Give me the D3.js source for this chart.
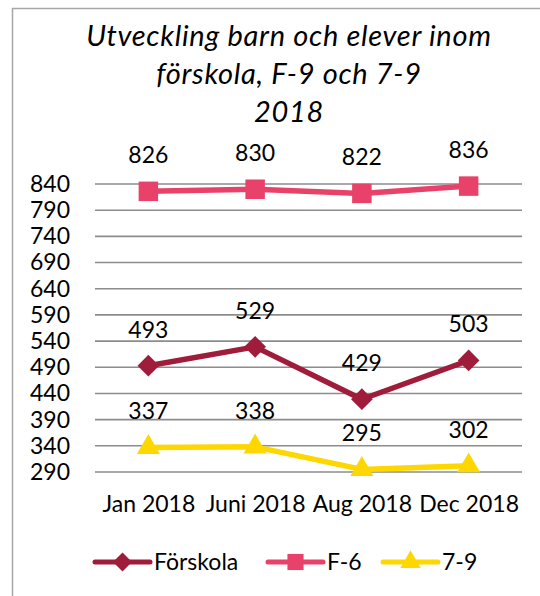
<!DOCTYPE html>
<html>
<head>
<meta charset="utf-8">
<script src="https://cdn.jsdelivr.net/npm/d3@7"></script>
<style>
  html, body { margin: 0; padding: 0; background: #fff; }
  svg { display: block; font-family: Lato, "Open Sans", sans-serif; }
</style>
</head>
<body>
<div id="container"></div>
<script>
const $ = (...args) => document.querySelector(...args);

const categories = ['Jan 2018', 'Juni 2018', 'Aug 2018', 'Dec 2018'];
const forskola = [493, 529, 429, 503];
const f6 = [826, 830, 822, 836];
const f79 = [337, 338, 295, 302];
const yTicks = [290, 340, 390, 440, 490, 540, 590, 640, 690, 740, 790, 840];
const titleLines = ['Utveckling barn och elever inom', 'förskola, F-9 och 7-9', '2018'];

const series = [
  { name: 'Förskola', values: forskola, color: '#A01C3B', marker: d3.symbolDiamond2 },
  { name: 'F-6', values: f6, color: '#E8426A', marker: d3.symbolSquare },
  { name: '7-9', values: f79, color: '#FFD700', marker: d3.symbolTriangle }
];

const width = 540, height = 596;
const svg = d3.select($('#container')).append('svg')
  .attr('width', width).attr('height', height);

// outer chart frame (right and bottom run off the picture)
svg.append('path')
  .attr('d', `M12.5,${height} V8.5 H${width}`)
  .attr('fill', 'none').attr('stroke', '#a6a6a6').attr('stroke-width', 1.5);

// title
svg.append('g').selectAll('text')
  .data(titleLines)
  .join('text')
  .attr('x', 289)
  .attr('y', (d, i) => 46 + i * 38)
  .attr('text-anchor', 'middle')
  .attr('font-style', 'italic')
  .attr('font-size', 29)
  .attr('letter-spacing', 0.7)
  .attr('fill', '#000')
  .text(d => d);

const x = d3.scalePoint().domain(categories).range([95, 522]).padding(0.5);
const y = d3.scaleLinear().domain([290, 840]).range([472, 184]);

// gridlines
svg.append('g').selectAll('line')
  .data(yTicks)
  .join('line')
  .attr('x1', 95).attr('x2', 522)
  .attr('y1', d => y(d)).attr('y2', d => y(d))
  .attr('stroke', '#8c8c8c').attr('stroke-width', 1.6);

// y axis labels
const yAxis = svg.append('g')
  .attr('transform', 'translate(70,0)')
  .call(d3.axisLeft(y).tickValues(yTicks).tickSize(0).tickPadding(0).tickFormat(d3.format('d')));
yAxis.select('.domain').remove();
yAxis.selectAll('text').attr('font-size', 23).attr('fill', '#000').attr('font-family', 'Lato, sans-serif');

// x axis labels
const xAxis = svg.append('g')
  .attr('transform', 'translate(0,490)')
  .call(d3.axisBottom(x).tickSize(0).tickPadding(0));
xAxis.select('.domain').remove();
xAxis.selectAll('text').attr('font-size', 23).attr('fill', '#000').attr('font-family', 'Lato, sans-serif')
  .attr('dy', '0.95em');

const line = d3.line().x((d, i) => x(categories[i])).y(d => y(d));

series.forEach(s => {
  const g = svg.append('g');
  g.append('path')
    .attr('d', line(s.values))
    .attr('fill', 'none')
    .attr('stroke', s.color)
    .attr('stroke-width', 5.5)
    .attr('stroke-linejoin', 'round');
  g.selectAll('path.m')
    .data(s.values)
    .join('path')
    .attr('class', 'm')
    .attr('transform', (d, i) => `translate(${x(categories[i])},${y(d)})`)
    .attr('d', d3.symbol(s.marker, s.marker === d3.symbolTriangle ? 230 : s.marker === d3.symbolSquare ? 380 : 300))
    .attr('fill', s.color);
  g.selectAll('text')
    .data(s.values)
    .join('text')
    .attr('x', (d, i) => x(categories[i]))
    .attr('y', d => y(d) - 28)
    .attr('text-anchor', 'middle')
    .attr('font-size', 23)
    .attr('fill', '#000')
    .text(d => d);
});

// legend
const legendX = [95, 268, 383];
const legend = svg.append('g').attr('transform', 'translate(0,562)');
series.forEach((s, i) => {
  const g = legend.append('g').attr('transform', `translate(${legendX[i]},0)`);
  g.append('line')
    .attr('x1', 0).attr('x2', 55).attr('y1', 0).attr('y2', 0)
    .attr('stroke', s.color).attr('stroke-width', 5).attr('stroke-linecap', 'round');
  g.append('path')
    .attr('transform', 'translate(27.5,0)')
    .attr('d', d3.symbol(s.marker, s.marker === d3.symbolTriangle ? 180 : s.marker === d3.symbolSquare ? 260 : 230))
    .attr('fill', s.color);
  g.append('text')
    .attr('x', 59).attr('y', 0).attr('dy', '0.35em')
    .attr('font-size', 23).attr('fill', '#000')
    .text(s.name);
});
</script>
</body>
</html>
